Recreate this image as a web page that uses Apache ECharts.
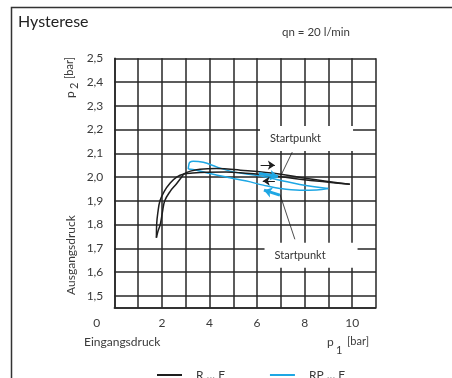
<!DOCTYPE html>
<html>
<head>
<meta charset="utf-8">
<script src="https://cdn.jsdelivr.net/npm/echarts@6/dist/echarts.min.js"></script>
<style>
  html, body { margin: 0; padding: 0; background: #fff; }
  #chart { width: 452px; height: 378px; }
</style>
</head>
<body>
<div id="chart"></div>
<script>
// Hysteresis curves: outlet pressure p2 [bar] over inlet pressure p1 [bar]
const xTicks = [0, 2, 4, 6, 8, 10];

// R ... F : rising branch (ends on the upper line) and falling branch
const rfUpper = [[9.9,1.970],[8.1,1.994],[7.0,2.012],[5.3,2.029],[4.3,2.036],[3.6,2.033],[3.2,2.025],
  [2.93,2.013],[2.83,2.000],[2.6,1.970],[2.35,1.940],[2.12,1.900],[2.02,1.850],[1.93,1.800],[1.83,1.770],[1.77,1.745]];
const rfLower = [[1.77,1.745],[1.78,1.800],[1.83,1.850],[1.92,1.900],[2.1,1.940],[2.35,1.975],[2.62,2.000],
  [2.93,2.013],[3.3,2.017],[3.9,2.020],[4.7,2.021],[5.3,2.018],[6.7,2.006],[7.8,1.991],[9.9,1.970]];

// RP ... F : closed loop between ~3 and 9 bar
const rpUpper = [[3.11,2.034],[3.13,2.050],[3.17,2.062],[3.32,2.067],[3.74,2.062],[4.30,2.043],[4.86,2.025],
  [5.42,2.015],[6.12,2.005],[6.96,1.987],[7.80,1.969],[8.99,1.952]];
const rpLower = [[3.11,2.034],[3.46,2.029],[4.02,2.015],[4.86,1.997],[5.56,1.983],[6.26,1.966],[6.96,1.952],
  [7.80,1.945],[8.50,1.946],[8.99,1.952]];

// annotations (data coordinates)
const startLabels = [[8.08, 2.162], [8.27, 1.671]];
const leaderLines = [[[7.48, 2.105], [7.0, 2.006]], [[6.96, 1.928], [7.59, 1.738]]];
const blackArrows = [[[6.15, 2.050], [6.75, 2.050]], [[6.75, 1.983], [6.24, 1.983]]];
const blueArrows = [[[6.08, 2.015], [6.88, 2.002]], [[6.96, 1.924], [6.29, 1.945]]];

const FONT = 'Lato, "Noto Sans", sans-serif';
const TXT = '#3a3a3a';
const GRIDC = '#262626';
const BLACK = '#1e1e1e';
const BLUE = '#1ea7e4';

const pair = a => a.map(p => [{ coord: p[0] }, { coord: p[1] }]);

const chart = echarts.init(document.getElementById('chart'), null, { renderer: 'canvas' });

chart.setOption({
  animation: false,
  backgroundColor: '#fff',
  grid: { left: 114.3, top: 58.3, right: 76, bottom: 70.3, containLabel: false },
  xAxis: {
    type: 'value', min: 0, max: 11, interval: 1,
    axisLine: { show: true, lineStyle: { color: GRIDC, width: 1.5 } },
    axisTick: { show: false },
    splitLine: { show: true, lineStyle: { color: GRIDC, width: 1.5 } },
    axisLabel: {
      margin: 9, color: TXT, fontFamily: FONT, fontSize: 12,
      formatter: v => (v === 0 ? '{z|0}' : (xTicks.indexOf(v) >= 0 ? String(v) : '')),
      rich: { z: { padding: [0, 35, 0, 0], color: TXT, fontFamily: FONT, fontSize: 12 } }
    }
  },
  yAxis: {
    type: 'value', min: 1.45, max: 2.5, splitNumber: 10,
    axisLine: { show: true, lineStyle: { color: GRIDC, width: 1.5 } },
    axisTick: { show: false },
    splitLine: { show: true, lineStyle: { color: GRIDC, width: 1.5 } },
    axisLabel: {
      margin: 11, color: TXT, fontFamily: FONT, fontSize: 12,
      formatter: v => (Math.abs(v * 10 - Math.round(v * 10)) < 1e-6 ? v.toFixed(1).replace('.', ',') : '')
    }
  },
  legend: {
    data: ['R ... F', 'RP ... F'],
    left: 152, top: 364, icon: 'rect', itemWidth: 25, itemHeight: 2, itemGap: 45,
    textStyle: { color: TXT, fontFamily: FONT, fontSize: 12, padding: [0, 0, 0, 9] }
  },
  series: [
    {
      name: 'R ... F', type: 'line', data: rfUpper, smooth: 0.4, symbol: 'none',
      lineStyle: { color: BLACK, width: 1.5 }, itemStyle: { color: BLACK }, z: 3,
      markLine: {
        silent: true, symbol: ['none', 'arrow'], symbolSize: 7,
        label: { show: false }, lineStyle: { color: BLACK, width: 1, type: 'solid' },
        data: pair(blackArrows)
      }
    },
    {
      name: 'R ... F', type: 'line', data: rfLower, smooth: 0.4, symbol: 'none',
      lineStyle: { color: BLACK, width: 1.5 }, itemStyle: { color: BLACK }, z: 3,
      markLine: {
        silent: true, symbol: ['none', 'none'],
        label: { show: false }, lineStyle: { color: BLACK, width: 0.8, type: 'solid' },
        data: pair(leaderLines)
      }
    },
    {
      name: 'RP ... F', type: 'line', data: rpUpper, smooth: 0.4, symbol: 'none',
      lineStyle: { color: BLUE, width: 1.5 }, itemStyle: { color: BLUE }, z: 2,
      markLine: {
        silent: true, symbol: ['none', 'arrow'], symbolSize: 8,
        label: { show: false }, lineStyle: { color: BLUE, width: 3, type: 'solid' },
        data: pair(blueArrows)
      }
    },
    {
      name: 'RP ... F', type: 'line', data: rpLower, smooth: 0.4, symbol: 'none',
      lineStyle: { color: BLUE, width: 1.5 }, itemStyle: { color: BLUE }, z: 2
    },
    {
      name: 'Startpunkt', type: 'scatter', data: startLabels, symbolSize: 0, silent: true, z: 1,
      itemStyle: { opacity: 1, color: '#fff' },
      label: {
        show: true, position: 'inside', formatter: 'Startpunkt', opacity: 1,
        color: '#333', fontFamily: FONT, fontSize: 11,
        backgroundColor: '#fff', padding: [7, 32, 7, 10]
      }
    }
  ],
  graphic: [
    { type: 'polyline', shape: { points: [[452, 7.5], [11.5, 7.5], [11.5, 378]] },
      style: { stroke: '#333', lineWidth: 1.5, fill: null }, silent: true },
    { type: 'text', x: 18, y: 22, style: { text: 'Hysterese', fill: '#222', font: '16px ' + FONT, verticalAlign: 'middle' } },
    { type: 'text', x: 282, y: 32, style: { text: 'qn = 20 l/min', fill: TXT, font: '11.5px ' + FONT, verticalAlign: 'middle' } },
    { type: 'group', x: 70, y: 98, rotation: Math.PI / 2, children: [
      { type: 'text', x: 0, y: 0, style: { text: 'p', fill: TXT, font: '12px ' + FONT, verticalAlign: 'middle' } },
      { type: 'text', x: 9, y: 4, style: { text: '2', fill: TXT, font: '11px ' + FONT, verticalAlign: 'middle' } },
      { type: 'text', x: 19, y: -1, style: { text: '[bar]', fill: TXT, font: '11px ' + FONT, verticalAlign: 'middle' } }
    ] },
    { type: 'text', x: 71, y: 255, rotation: Math.PI / 2,
      style: { text: 'Ausgangsdruck', fill: TXT, font: '12px ' + FONT, align: 'center', verticalAlign: 'middle' } },
    { type: 'text', x: 84, y: 342, style: { text: 'Eingangsdruck', fill: TXT, font: '12px ' + FONT, verticalAlign: 'middle' } },
    { type: 'text', x: 327, y: 342, style: { text: 'p', fill: TXT, font: '12px ' + FONT, verticalAlign: 'middle' } },
    { type: 'text', x: 336, y: 350, style: { text: '1', fill: TXT, font: '11px ' + FONT, verticalAlign: 'middle' } },
    { type: 'text', x: 347, y: 341, style: { text: '[bar]', fill: TXT, font: '11px ' + FONT, verticalAlign: 'middle' } }
  ]
});
</script>
</body>
</html>
